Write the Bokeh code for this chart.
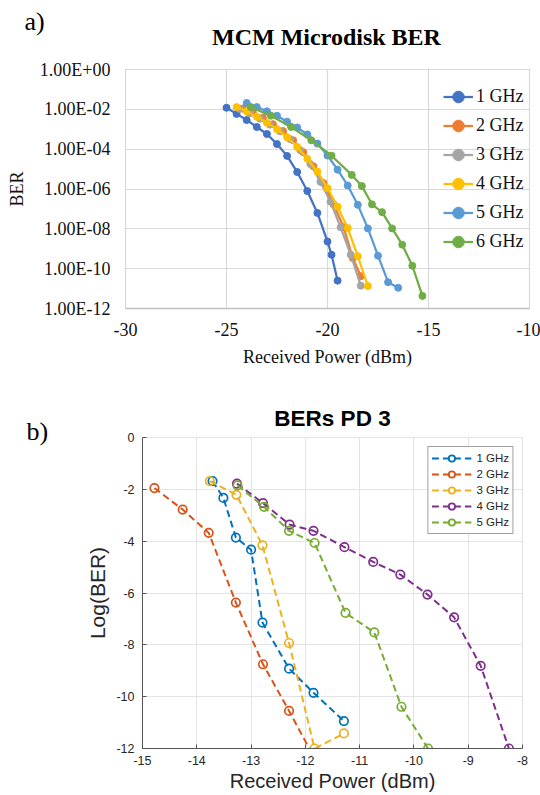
from bokeh.plotting import figure
from bokeh.models import (Range1d, FixedTicker, CustomJSTickFormatter, Legend,
                          LegendItem, Label)
from bokeh.layouts import column, row
from bokeh.embed import file_html
from bokeh.resources import INLINE

# ---------------- Panel a data (BER vs received power, dBm) ----------------
a_labels = ["1 GHz", "2 GHz", "3 GHz", "4 GHz", "5 GHz", "6 GHz"]
a_colors = ["#4472C4", "#ED7D31", "#A5A5A5", "#FFC000", "#5B9BD5", "#70AD47"]

a1_x = [-25.0, -24.5, -24.0, -23.5, -23.0, -22.5, -22.0, -21.5, -21.0, -20.5, -20.0, -19.8, -19.5]
a1_ber = [1.2e-2, 5.9e-3, 2.9e-3, 1.3e-3, 5.8e-4, 1.8e-4, 4.6e-5, 7.1e-6, 7.9e-7, 6.3e-8, 2.3e-9, 5.0e-10, 2.5e-11]

a2_x = [-24.2, -23.7, -23.2, -22.7, -22.2, -21.7, -21.2, -20.7, -20.2, -19.7, -19.2, -18.75, -18.35]
a2_ber = [1.1e-2, 7.1e-3, 3.8e-3, 1.8e-3, 8.1e-4, 2.8e-4, 7.1e-5, 1.4e-5, 2.0e-6, 1.7e-7, 1.2e-8, 3.4e-10, 4.2e-11]

a3_x = [-24.35, -23.85, -23.35, -22.85, -22.35, -21.85, -21.35, -20.85, -20.35, -19.85, -19.35, -18.85, -18.35]
a3_ber = [1.05e-2, 6.3e-3, 3.4e-3, 1.7e-3, 7.9e-4, 3.2e-4, 8.9e-5, 1.8e-5, 2.3e-6, 2.3e-7, 1.2e-8, 5.0e-10, 1.4e-11]

a4_x = [-24.5, -24.0, -23.5, -23.0, -22.5, -22.0, -21.5, -21.0, -20.5, -20.0, -19.5, -19.0, -18.5, -18.0]
a4_ber = [1.3e-2, 7.9e-3, 4.2e-3, 2.1e-3, 1.0e-3, 4.0e-4, 1.3e-4, 3.3e-5, 7.4e-6, 1.1e-6, 1.3e-7, 1.1e-8, 4.2e-10, 1.35e-11]

a5_x = [-24.0, -23.5, -23.0, -22.5, -22.0, -21.5, -21.0, -20.5, -20.0, -19.5, -19.0, -18.5, -18.0, -17.5, -17.0, -16.5]
a5_ber = [2.1e-2, 1.3e-2, 7.9e-3, 4.8e-3, 2.4e-3, 1.23e-3, 5.5e-4, 1.9e-4, 4.8e-5, 9.3e-6, 1.5e-6, 1.6e-7, 1.05e-8, 4.5e-10, 2.1e-11, 1.1e-11]

a6_x = [-23.8, -22.8, -21.8, -20.8, -19.8, -18.8, -18.3, -17.8, -17.3, -16.8, -16.3, -15.8, -15.3]
a6_ber = [1.3e-2, 4.8e-3, 1.3e-3, 2.8e-4, 4.7e-5, 5.1e-6, 1.4e-6, 1.7e-7, 6.9e-8, 1.05e-8, 1.6e-9, 1.4e-10, 4.3e-12]

a_x_ticks = [-30, -25, -20, -15, -10]
a_y_ticks = [1e0, 1e-2, 1e-4, 1e-6, 1e-8, 1e-10, 1e-12]

# ---------------- Panel b data (log10 BER vs received power, dBm) ----------------
b_labels = ["1 GHz", "2 GHz", "3 GHz", "4 GHz", "5 GHz"]
b_colors = ["#0072BD", "#D95319", "#EDB120", "#7E2F8E", "#77AC30"]

b1_x = [-13.71, -13.51, -13.28, -13.0, -12.79, -12.30, -11.85, -11.29]
b1_y = [-1.68, -2.33, -3.86, -4.33, -7.14, -8.92, -9.85, -10.94]

b2_x = [-14.78, -14.26, -13.78, -13.28, -12.78, -12.30, -11.80]
b2_y = [-1.95, -2.78, -3.68, -6.37, -8.75, -10.55, -12.5]

b3_x = [-13.76, -13.27, -12.79, -12.30, -11.83, -11.29]
b3_y = [-1.68, -2.21, -4.16, -7.93, -12.0, -11.42]

b4_x = [-13.26, -12.78, -12.29, -11.85, -11.28, -10.75, -10.25, -9.75, -9.26, -8.77, -8.25]
b4_y = [-1.78, -2.53, -3.36, -3.60, -4.23, -4.80, -5.29, -6.06, -6.94, -8.81, -12.0]

b5_x = [-13.25, -12.76, -12.30, -11.83, -11.26, -10.73, -10.23, -9.74]
b5_y = [-1.85, -2.68, -3.60, -4.07, -6.77, -7.52, -10.39, -12.0]

b_x_ticks = [-15, -14, -13, -12, -11, -10, -9, -8]
b_y_ticks = [0, -2, -4, -6, -8, -10, -12]

SERIF = "Liberation Serif"
SANS = "Liberation Sans"

plain_fmt = "return tick.toString();"


def blank(width, height):
    f = figure(width=width, height=height, x_range=Range1d(0, 1), y_range=Range1d(0, 1),
               min_border=0, x_axis_location=None, y_axis_location=None,
               output_backend="svg", toolbar_location=None)
    f.grid.visible = False
    f.outline_line_color = None
    return f


# ============================ Panel a: header ============================
head_a = blank(540, 55)
head_a.add_layout(Label(x=24, y=34.5, x_units="screen", y_units="screen", text="a)",
                        text_font=SERIF, text_font_size="26px", text_color="#000000",
                        text_align="left", text_baseline="middle"))
head_a.add_layout(Label(x=326, y=18.8, x_units="screen", y_units="screen",
                        text="MCM Microdisk BER", text_font=SERIF, text_font_size="24px",
                        text_font_style="bold", text_color="#000000",
                        text_align="center", text_baseline="middle"))

# ============================ Panel a: chart ============================
pa = figure(width=540, height=325, output_backend="svg", toolbar_location=None,
            y_axis_type="log", x_range=Range1d(-30, -10), y_range=Range1d(1e-12, 1e0),
            min_border_left=125, min_border_right=11, min_border_top=14, min_border_bottom=72)

ya_ticker = FixedTicker(ticks=a_y_ticks)
xa_ticker = FixedTicker(ticks=a_x_ticks)
pa.yaxis.ticker = ya_ticker
pa.ygrid.ticker = ya_ticker
pa.xaxis.ticker = xa_ticker
pa.xgrid.ticker = xa_ticker
pa.xaxis.formatter = CustomJSTickFormatter(code=plain_fmt)
pa.yaxis.formatter = CustomJSTickFormatter(code="""
const e = Math.round(Math.log10(tick));
const a = Math.abs(e);
return "1.00E" + (e < 0 ? "-" : "+") + (a < 10 ? "0" : "") + a;
""")
for ax in (pa.xaxis, pa.yaxis):
    ax.major_tick_line_color = None
    ax.minor_tick_line_color = None
    ax.major_tick_in = 0
    ax.major_tick_out = 0
    ax.minor_tick_in = 0
    ax.minor_tick_out = 0
    ax.major_label_text_font = SERIF
    ax.major_label_text_font_size = "18px"
    ax.major_label_text_color = "#111111"
    ax.axis_label_text_font = SERIF
    ax.axis_label_text_font_size = "18px"
    ax.axis_label_text_font_style = "normal"
    ax.axis_label_text_color = "#111111"
pa.yaxis.axis_line_color = None
pa.xaxis.axis_line_color = "#bfbfbf"
pa.xaxis.axis_line_width = 1.3
pa.yaxis.major_label_standoff = 15
pa.xaxis.major_label_standoff = 14
pa.yaxis.axis_label = "BER"
pa.xaxis.axis_label = "Received Power (dBm)"
pa.yaxis.axis_label_standoff = 10
pa.xaxis.axis_label_standoff = 8
pa.xgrid.grid_line_color = "#d9d9d9"
pa.ygrid.grid_line_color = "#d9d9d9"
pa.xgrid.grid_line_width = 1.2
pa.ygrid.grid_line_width = 1.2
pa.outline_line_color = "#d9d9d9"
pa.outline_line_width = 1.2

a_series = [(a1_x, a1_ber), (a2_x, a2_ber), (a3_x, a3_ber), (a4_x, a4_ber), (a5_x, a5_ber), (a6_x, a6_ber)]
a_items = []
for (xs, ys), lab, col in zip(a_series, a_labels, a_colors):
    ln = pa.line(xs, ys, line_color=col, line_width=2.25)
    sc = pa.scatter(xs, ys, marker="circle", size=7, fill_color=col, line_color=col)
    a_items.append(LegendItem(label=lab, renderers=[ln, sc]))

leg_a = Legend(items=a_items, location=(318, 52), orientation="vertical",
               border_line_color=None, background_fill_alpha=0, padding=0, spacing=0,
               margin=0, label_height=29, glyph_height=29, glyph_width=30, label_standoff=3,
               label_text_font=SERIF, label_text_font_size="18px", label_text_color="#111111")
pa.add_layout(leg_a, "center")

# ============================ Panel b: side strip ============================
side_b = blank(60, 415)
side_b.add_layout(Label(x=26, y=363.8, x_units="screen", y_units="screen", text="b)",
                        text_font=SERIF, text_font_size="26px", text_color="#000000",
                        text_align="left", text_baseline="middle"))

# ============================ Panel b: chart ============================
pb = figure(width=480, height=415, output_backend="svg", toolbar_location=None,
            x_range=Range1d(-15, -8), y_range=Range1d(-12, 0),
            min_border_left=82, min_border_right=18, min_border_top=57, min_border_bottom=47)
pb.title.text = "BERs PD 3"
pb.title.align = "center"
pb.title.text_font = SANS
pb.title.text_font_size = "22.5px"
pb.title.text_font_style = "bold"
pb.title.text_color = "#000000"
pb.title.standoff = 14

xb_ticker = FixedTicker(ticks=b_x_ticks)
yb_ticker = FixedTicker(ticks=b_y_ticks)
pb.xaxis.ticker = xb_ticker
pb.xgrid.ticker = xb_ticker
pb.yaxis.ticker = yb_ticker
pb.ygrid.ticker = yb_ticker
for ax in (pb.xaxis, pb.yaxis):
    ax.formatter = CustomJSTickFormatter(code=plain_fmt)
    ax.major_tick_in = 4
    ax.major_tick_out = 0
    ax.minor_tick_in = 0
    ax.minor_tick_out = 0
    ax.major_tick_line_color = "#555555"
    ax.minor_tick_line_color = None
    ax.axis_line_color = "#555555"
    ax.axis_line_width = 1
    ax.major_label_text_font = SANS
    ax.major_label_text_font_size = "12.5px"
    ax.major_label_text_color = "#262626"
    ax.axis_label_text_font = SANS
    ax.axis_label_text_font_style = "normal"
    ax.axis_label_text_color = "#262626"
pb.yaxis.major_label_standoff = 8
pb.xaxis.major_label_standoff = 7
pb.yaxis.axis_label = "Log(BER)"
pb.yaxis.axis_label_text_font_size = "21px"
pb.yaxis.axis_label_standoff = 4
pb.xaxis.axis_label = "Received Power (dBm)"
pb.xaxis.axis_label_text_font_size = "20px"
pb.xaxis.axis_label_standoff = 2
pb.xgrid.grid_line_color = "#e3e3e3"
pb.ygrid.grid_line_color = "#e3e3e3"
pb.outline_line_color = "#e3e3e3"

b_series = [(b1_x, b1_y), (b2_x, b2_y), (b3_x, b3_y), (b4_x, b4_y), (b5_x, b5_y)]
b_items = []
for (xs, ys), lab, col in zip(b_series, b_labels, b_colors):
    ln = pb.line(xs, ys, line_color=col, line_width=2, line_dash="7 4")
    sc = pb.scatter(xs, ys, marker="circle", size=8.5, fill_color=None, line_color=col, line_width=1.7)
    b_items.append(LegendItem(label=lab, renderers=[ln, sc]))

leg_b = Legend(items=b_items, location="top_right", margin=9, orientation="vertical",
               border_line_color="#404040", border_line_width=1, background_fill_color="white",
               background_fill_alpha=1, padding=3, spacing=0, label_height=16, glyph_height=16,
               glyph_width=40, label_standoff=5, label_text_font=SANS,
               label_text_font_size="11.5px", label_text_color="#262626")
pb.add_layout(leg_b, "center")

layout = column(column(head_a), column(pa),
                row(column(side_b), column(pb), spacing=0), spacing=0)
open("out.html", "w").write(file_html(layout, INLINE))
